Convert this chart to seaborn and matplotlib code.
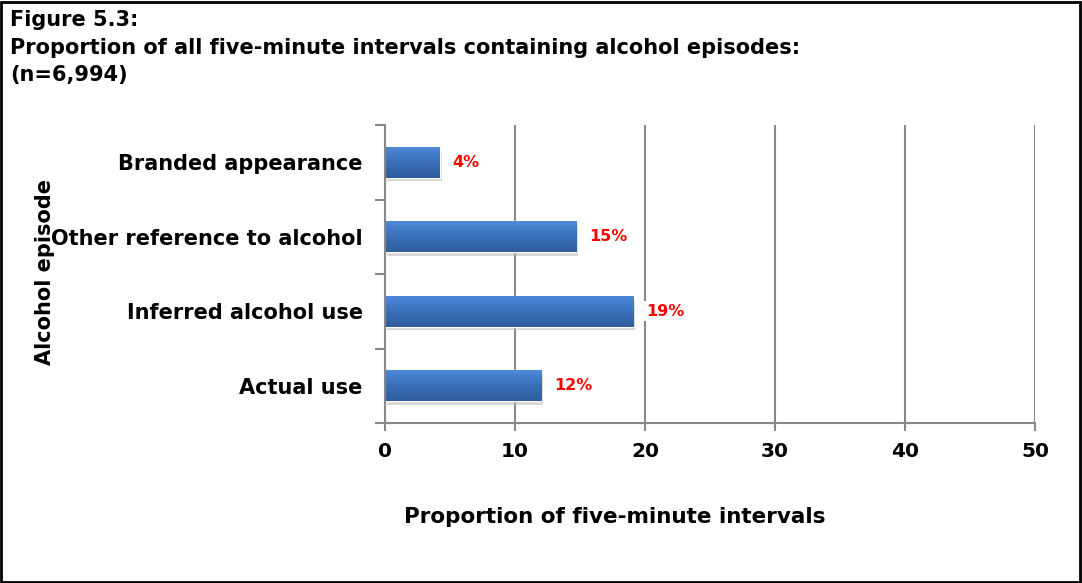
import numpy as np
import pandas as pd
import seaborn as sns
import matplotlib.pyplot as plt
from matplotlib.patches import Rectangle
from matplotlib.colors import LinearSegmentedColormap

# data
categories = ['Branded appearance', 'Other reference to alcohol',
              'Inferred alcohol use', 'Actual use']
values = [4.2, 14.7, 19.1, 12.0]
labels = ['4%', '15%', '19%', '12%']
xticks = [0, 10, 20, 30, 40, 50]

title = 'Figure 5.3:\nProportion of all five-minute intervals containing alcohol episodes:\n(n=6,994)'


def main():
    sns.set_style('white')
    plt.rcParams['font.family'] = ['DejaVu Sans']
    plt.rcParams['font.weight'] = 'bold'
    plt.rcParams['text.color'] = 'black'
    plt.rcParams['xtick.color'] = 'black'
    plt.rcParams['ytick.color'] = 'black'

    df = pd.DataFrame({'episode': categories, 'value': values})

    fig = plt.figure(figsize=(10.82, 5.83), dpi=100)
    ax = fig.add_axes([0.3558, 0.2744, 0.6008, 0.5112])

    sns.barplot(data=df, x='value', y='episode', orient='h', color='#3f77c6',
                width=0.41, ax=ax, saturation=1)

    # gradient fill + soft shadow on each bar
    cmap = LinearSegmentedColormap.from_list('bar', ['#4d8ad9', '#3a6fb9', '#2f5d9c'])
    grad = np.linspace(0, 1, 64).reshape(-1, 1)
    for p in ax.patches:
        x0, y0 = p.get_x(), p.get_y()
        w, h = p.get_width(), p.get_height()
        shadow = Rectangle((x0 + 0.15, y0 + 0.05), w, h, color='#b5b5b5', alpha=0.55,
                           zorder=1.5, lw=0)
        ax.add_patch(shadow)
        im = ax.imshow(grad, cmap=cmap, aspect='auto', extent=(x0, x0 + w, y0 + h, y0),
                       zorder=2.5, origin='upper')
        im.set_clip_path(p)
        p.set_zorder(2)

    ax.set_xlim(0, 50)
    ax.set_ylim(3.5, -0.5)
    ax.set_xticks(xticks)
    ax.set_xticklabels([str(t) for t in xticks], fontsize=14.5, fontweight='bold')
    ax.set_yticks(range(len(categories)))
    ax.set_yticklabels(categories, fontsize=15, fontweight='bold')
    ax.set_yticks([-0.5, 0.5, 1.5, 2.5, 3.5], minor=True)

    ax.tick_params(axis='y', which='major', length=0, pad=16)
    ax.tick_params(axis='y', which='minor', length=7, color='#888888', width=1.5,
                   direction='out', left=True)
    ax.tick_params(axis='x', length=6, color='#888888', width=1.5, pad=8,
                   direction='out', bottom=True)

    ax.xaxis.grid(True, color='#888888', linewidth=1.5)
    ax.set_axisbelow(True)
    for side in ['top', 'right']:
        ax.spines[side].set_visible(False)
    for side in ['left', 'bottom']:
        ax.spines[side].set_color('#888888')
        ax.spines[side].set_linewidth(1.5)

    ax.set_xlabel('')
    ax.set_ylabel('')

    # red value labels
    for i, (v, lab) in enumerate(zip(values, labels)):
        ax.text(v + 1.0, i, lab, color='red', fontsize=11.5, fontweight='bold',
                va='center', ha='left', zorder=4,
                bbox=dict(facecolor='white', edgecolor='none', pad=2))

    fig.text(0.0092, 0.982, title, fontsize=15, fontweight='bold', va='top',
             ha='left', linespacing=1.45)
    fig.text(0.042, 0.533, 'Alcohol episode', rotation=90, fontsize=15,
             fontweight='bold', va='center', ha='center')
    fig.text(0.568, 0.113, 'Proportion of five-minute intervals', fontsize=15.5,
             fontweight='bold', va='center', ha='center')

    # outer frame
    fig.patches.append(Rectangle((0.001, 0.002), 0.997, 0.995, transform=fig.transFigure,
                                 fill=False, edgecolor='black', linewidth=2))

    fig.savefig('out.png', dpi=100)


if __name__ == '__main__':
    main()
